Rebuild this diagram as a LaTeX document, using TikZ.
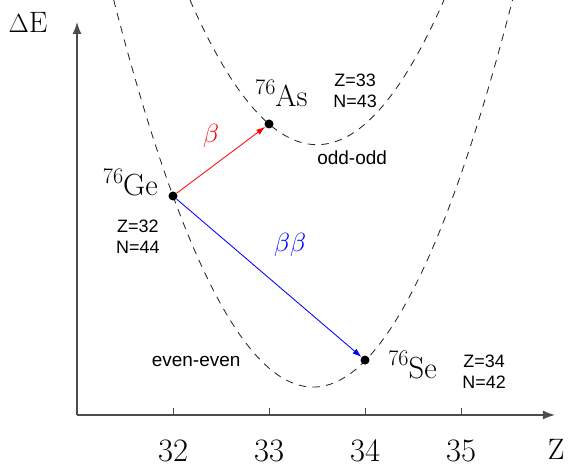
\documentclass[tikz,border=0pt]{standalone}
\usepackage{fontspec}
\setsansfont{Liberation Sans}
\usetikzlibrary{arrows.meta}
\newcommand{\nuc}[2]{\raisebox{0.4em}{\fontsize{21}{21}\selectfont #1}#2}

\begin{document}
\begin{tikzpicture}[
        dot/.style={circle, fill=black, inner sep=0pt, minimum size=0.3cm},
        nucl/.style={font=\fontsize{29}{30}\selectfont, inner sep=0pt},
        zn/.style={font=\sffamily\fontsize{17}{20}\selectfont, align=center, inner sep=0pt},
        tag/.style={font=\sffamily\fontsize{18}{20}\selectfont, inner sep=0pt},
        parab/.style={dash pattern=on 7pt off 6pt, line width=0.8pt, black!85},
        axis/.style={line width=1.3pt, black!70, -{Latex[length=4mm,width=3mm]}},
        decay/.style={line width=0.8pt, -{Latex[length=3mm,width=2mm]}}
    ]
        \useasboundingbox (-2.567,-1.733) rectangle (16.433,13.833);
        % Axes
        \coordinate (o) at (0,0);
        \coordinate (xend) at (15.93,0);
        \coordinate (yend) at (0,13.1);
        \draw[axis] (o) -- (xend);
        \draw[axis] (o) -- (yend);
        \node[font=\fontsize{28}{30}\selectfont, inner sep=0pt] (zlab) at (15.97,-1.15) {Z};
        \node[font=\fontsize{28}{30}\selectfont, inner sep=0pt] (elab) at (-1.63,13.07) {$\Delta$E};
        \foreach \z [count=\i] in {32,33,34,35} {
            \draw[line width=0.8pt, black!70] (3.2*\i,0) -- ++(0,0.23);
            \node[font=\fontsize{31}{32}\selectfont, inner sep=0pt] (tick\z) at (3.2*\i,-1.2) {\z};
        }
        % Even-even and odd-odd parabolas
        \draw[parab] plot[domain=1.22:14.52, samples=80] (\x, {0.93+0.292*(\x-7.87)^2});
        \draw[parab] plot[domain=3.77:12.23, samples=80] (\x, {9.01+0.269*(\x-8)^2});
        \node[tag] (ee) at (3.97,1.77) {even-even};
        \node[tag] (oo) at (9.17,8.57) {odd-odd};
        % Nuclei
        \node[dot] (ge) at (3.2,7.3) {};
        \node[dot] (as) at (6.4,9.7) {};
        \node[dot] (se) at (9.6,1.83) {};
        \node[nucl, anchor=base east] (gelab) at (2.7,7.3) {\nuc{76}{Ge}};
        \node[nucl, anchor=base west] (aslab) at (5.93,10.27) {\nuc{76}{As}};
        \node[nucl, anchor=base west] (selab) at (10.37,1.23) {\nuc{76}{Se}};
        \node[zn] (gezn) at (2.03,5.93) {Z=32\\N=44};
        \node[zn] (aszn) at (9.27,10.8) {Z=33\\N=43};
        \node[zn] (sezn) at (13.57,1.43) {Z=34\\N=42};
        % Decays
        \draw[decay, red] (ge) -- (as);
        \draw[decay, blue] (ge) -- (se);
        \node[red, font=\fontsize{32}{32}\selectfont] (b1) at (4.47,9.3) {$\beta$};
        \node[blue, font=\fontsize{34}{34}\selectfont] (b2) at (7.1,5.67) {$\beta\beta$};
    \end{tikzpicture}
\end{document}
